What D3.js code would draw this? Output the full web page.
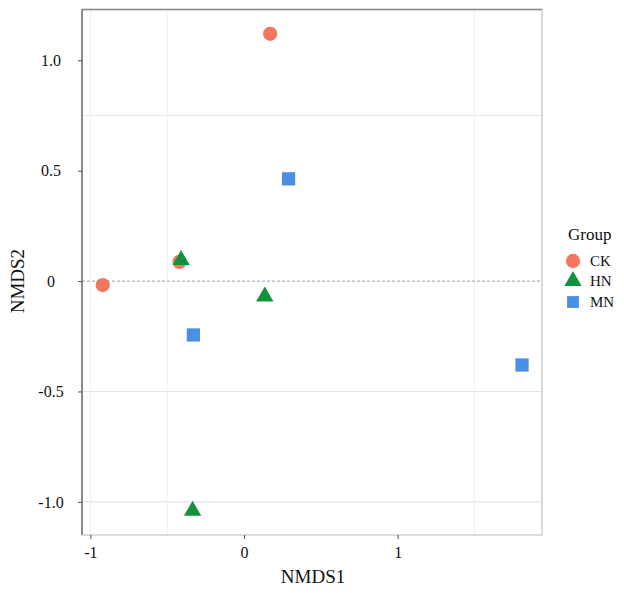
<!DOCTYPE html>
<html>
<head>
<meta charset="utf-8">
<script src="https://cdn.jsdelivr.net/npm/d3@7"></script>
<style>
  body { margin: 0; background: #fff; }
  text { font-family: 'Liberation Serif', 'DejaVu Serif', serif; fill: #111; }
</style>
</head>
<body>
<div id="chart"></div>
<script>
// data
const groups = ['CK', 'HN', 'MN']
const colors = ['#f4765f', '#13913c', '#4a90e2']
const ckX = [0.17, -0.42, -0.92]
const ckY = [1.12, 0.087, -0.018]
const hnX = [-0.41, 0.135, -0.335]
const hnY = [0.095, -0.07, -1.04]
const mnX = [0.29, -0.33, 1.81]
const mnY = [0.463, -0.244, -0.38]
const xTicks = [-1, 0, 1]
const yTicks = [1.0, 0.5, 0, -0.5, -1.0]
const xGrid = [-1, -0.5, 1.5]
const yGrid = [0.75, -0.5, -1.0]

const width = 624
const height = 593
const margin = { left: 82, top: 9.5, right: 82, bottom: 58 }

// plain hyphen instead of d3's unicode minus, like the original figure
const hyphen = s => s.replace('\u2212', '-')

const svg = d3.select('#chart').append('svg')
  .attr('width', width)
  .attr('height', height)

const x = d3.scaleLinear().domain([-1.055, 1.94]).range([margin.left, width - margin.right])
const y = d3.scaleLinear().domain([-1.15, 1.23]).range([height - margin.bottom, margin.top])

// grid
svg.append('g').selectAll('line.hg').data(yGrid).enter().append('line')
  .attr('x1', x.range()[0]).attr('x2', x.range()[1])
  .attr('y1', d => y(d)).attr('y2', d => y(d))
  .attr('stroke', '#e4e4e4').attr('stroke-width', 1.2)

svg.append('g').selectAll('line.vg').data(xGrid).enter().append('line')
  .attr('y1', y.range()[0]).attr('y2', y.range()[1])
  .attr('x1', d => x(d)).attr('x2', d => x(d))
  .attr('stroke', '#f0f0f0').attr('stroke-width', 1)

// zero reference line
svg.append('line')
  .attr('x1', x.range()[0]).attr('x2', x.range()[1])
  .attr('y1', y(0)).attr('y2', y(0))
  .attr('stroke', '#a9b4c2').attr('stroke-width', 1.2)
  .attr('stroke-dasharray', '3,2')

// panel border
svg.append('rect')
  .attr('x', x.range()[0]).attr('y', y.range()[1])
  .attr('width', x.range()[1] - x.range()[0])
  .attr('height', y.range()[0] - y.range()[1])
  .attr('fill', 'none').attr('stroke', '#c4c4c4').attr('stroke-width', 1.2)
svg.append('line')
  .attr('x1', x.range()[0]).attr('x2', x.range()[1])
  .attr('y1', y.range()[1]).attr('y2', y.range()[1])
  .attr('stroke', '#888').attr('stroke-width', 1.5)
svg.append('line')
  .attr('x1', x.range()[0]).attr('x2', x.range()[0])
  .attr('y1', y.range()[1]).attr('y2', y.range()[0])
  .attr('stroke', '#777').attr('stroke-width', 1.6)
svg.append('line')
  .attr('x1', x.range()[0]).attr('x2', x.range()[1])
  .attr('y1', y.range()[0]).attr('y2', y.range()[0])
  .attr('stroke', '#ddd').attr('stroke-width', 1.2)

// axes
const xAxis = svg.append('g')
  .attr('transform', `translate(0,${y.range()[0]})`)
  .call(d3.axisBottom(x).tickValues(xTicks).tickFormat(d => hyphen(d3.format('d')(d))).tickSize(4).tickPadding(8))
xAxis.select('.domain').remove()
xAxis.selectAll('line').attr('stroke', '#555')
xAxis.selectAll('text').style('font-size', '16px').attr('fill', '#111')

const yAxis = svg.append('g')
  .attr('transform', `translate(${x.range()[0]},0)`)
  .call(d3.axisLeft(y).tickValues(yTicks)
    .tickFormat(d => d === 0 ? '0' : hyphen(d3.format('.1f')(d)))
    .tickSize(4).tickPadding(8))
yAxis.select('.domain').remove()
yAxis.selectAll('line').attr('stroke', '#555')
yAxis.selectAll('text')
  .attr('text-anchor', 'middle').attr('x', -31)
  .style('font-size', '16px').attr('fill', '#111')

// axis titles
svg.append('text')
  .attr('x', (x.range()[0] + x.range()[1]) / 2 + 1)
  .attr('y', 583)
  .attr('text-anchor', 'middle')
  .style('font-size', '19px')
  .text('NMDS1')

svg.append('text')
  .attr('transform', `translate(24,${y(0)}) rotate(-90)`)
  .attr('text-anchor', 'middle')
  .style('font-size', '19px')
  .text('NMDS2')

// points
const shapes = [d3.symbolCircle, d3.symbolTriangle, d3.symbolSquare]
const sizes = [160, 130, 175]
const series = [
  ckX.map((v, i) => ({ x: v, y: ckY[i], g: 0 })),
  hnX.map((v, i) => ({ x: v, y: hnY[i], g: 1 })),
  mnX.map((v, i) => ({ x: v, y: mnY[i], g: 2 })),
]
// CK first so the HN triangle sits on top of the overlapping circle
const points = series.flat()

svg.append('g').selectAll('path.pt').data(points).enter().append('path')
  .attr('class', 'pt')
  .attr('d', d => d3.symbol().type(shapes[d.g]).size(sizes[d.g])())
  .attr('transform', d => `translate(${x(d.x)},${y(d.y)})`)
  .attr('fill', d => colors[d.g])

// legend
const legend = svg.append('g').attr('transform', 'translate(568,0)')
legend.append('text')
  .attr('x', 0).attr('y', 240)
  .style('font-size', '17px')
  .text('Group')

const legendY = [261, 281, 302]
const items = legend.selectAll('g.item').data(groups).enter().append('g')
  .attr('class', 'item')
  .attr('transform', (d, i) => `translate(0,${legendY[i]})`)
items.append('path')
  .attr('d', (d, i) => d3.symbol().type(shapes[i]).size(i === 2 ? 140 : sizes[i])())
  .attr('transform', 'translate(5,0)')
  .attr('fill', (d, i) => colors[i])
items.append('text')
  .attr('x', 22).attr('y', 5)
  .style('font-size', '15px')
  .text(d => d)
</script>
</body>
</html>
